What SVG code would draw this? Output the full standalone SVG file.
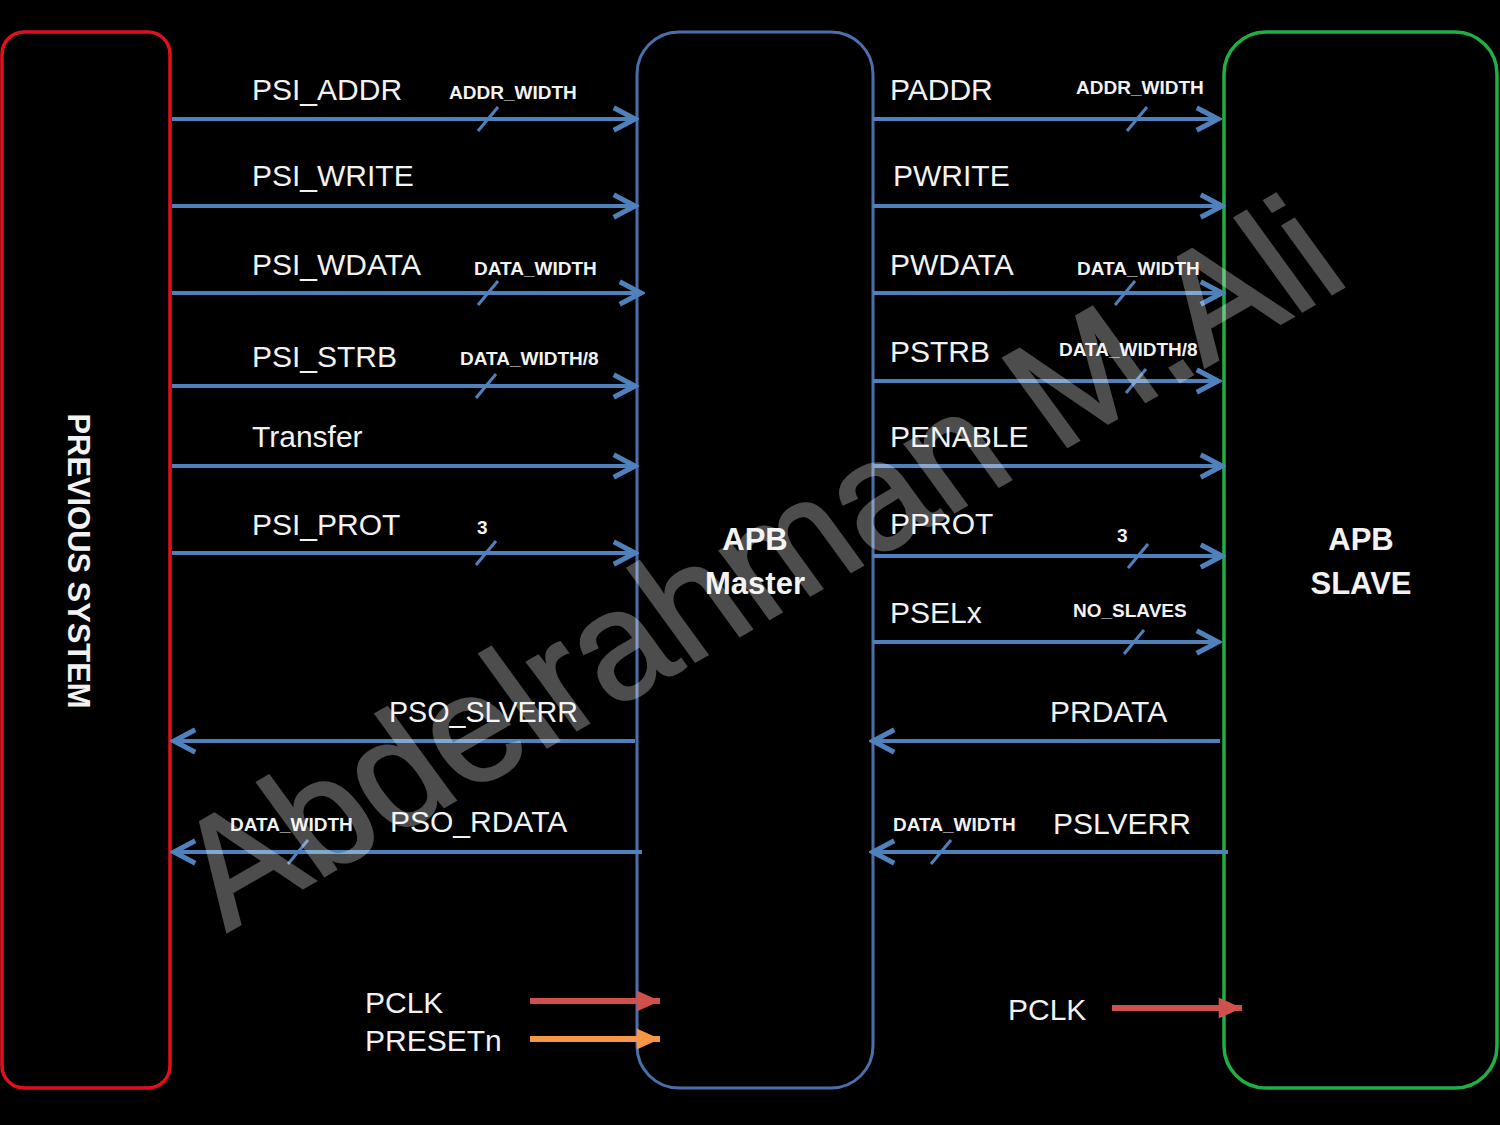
<svg xmlns="http://www.w3.org/2000/svg" width="1500" height="1125" viewBox="0 0 1500 1125">
<defs>
<marker id="ah" markerUnits="userSpaceOnUse" markerWidth="30" markerHeight="30" viewBox="0 0 24 24" refX="21" refY="12" orient="auto">
<path d="M4,3 L21,12 L4,21" fill="none" stroke="#4f81bd" stroke-width="4" stroke-linejoin="miter"/>
</marker>
<marker id="ahr" markerUnits="userSpaceOnUse" markerWidth="28" markerHeight="28" viewBox="0 0 24 24" refX="22" refY="12" orient="auto">
<path d="M2,3 L22,12 L2,21 Z" fill="#d0504d"/>
</marker>
<marker id="aho" markerUnits="userSpaceOnUse" markerWidth="28" markerHeight="28" viewBox="0 0 24 24" refX="22" refY="12" orient="auto">
<path d="M2,3 L22,12 L2,21 Z" fill="#f79646"/>
</marker>
</defs>
<style>
.lbl{font-family:"Liberation Sans",Arial,sans-serif;font-size:30px;fill:#f2f2f2}
.sm{font-family:"Liberation Sans",Arial,sans-serif;font-size:19px;font-weight:bold;fill:#f2f2f2}
.big{font-family:"Liberation Sans",Arial,sans-serif;font-size:31px;font-weight:bold;fill:#f2f2f2}
.bus{stroke:#4f81bd;stroke-width:4;fill:none;marker-end:url(#ah)}
.tick{stroke:#4f81bd;stroke-width:3}
</style>
<rect x="0" y="0" width="1500" height="1125" fill="#000"/>

<g id="previous-system">
<rect x="2" y="32" width="168" height="1056" rx="22" fill="none" stroke="#e2101c" stroke-width="3.5"/>
<text class="big" transform="translate(68,561) rotate(90)" text-anchor="middle" font-size="30" textLength="295" lengthAdjust="spacingAndGlyphs">PREVIOUS  SYSTEM</text>
</g>

<g id="apb-master">
<rect x="637" y="32" width="236" height="1056" rx="42" fill="none" stroke="#4a70ab" stroke-width="3"/>
<text class="big" x="755" y="550" text-anchor="middle">APB</text>
<text class="big" x="755" y="594" text-anchor="middle">Master</text>
</g>

<g id="apb-slave">
<rect x="1224" y="32" width="273" height="1056" rx="42" fill="none" stroke="#1fb044" stroke-width="3.5"/>
<text class="big" x="1361" y="550" text-anchor="middle">APB</text>
<text class="big" x="1361" y="594" text-anchor="middle">SLAVE</text>
</g>

<g id="connectors">
<line class="bus" x1="172" y1="119" x2="635" y2="119"/>
<line class="bus" x1="172" y1="206" x2="635" y2="206"/>
<line class="bus" x1="172" y1="293" x2="641" y2="293"/>
<line class="bus" x1="172" y1="386" x2="635" y2="386"/>
<line class="bus" x1="172" y1="466" x2="635" y2="466"/>
<line class="bus" x1="172" y1="553" x2="635" y2="553"/>
<line class="bus" x1="635" y1="741" x2="174" y2="741"/>
<line class="bus" x1="642" y1="852" x2="174" y2="852"/>

<line class="bus" x1="873" y1="119" x2="1218" y2="119"/>
<line class="bus" x1="873" y1="206" x2="1222" y2="206"/>
<line class="bus" x1="873" y1="293" x2="1222" y2="293"/>
<line class="bus" x1="873" y1="381" x2="1218" y2="381"/>
<line class="bus" x1="873" y1="466" x2="1222" y2="466"/>
<line class="bus" x1="873" y1="556" x2="1222" y2="556"/>
<line class="bus" x1="873" y1="642" x2="1218" y2="642"/>
<line class="bus" x1="1220" y1="741" x2="873" y2="741"/>
<line class="bus" x1="1228" y1="852" x2="873" y2="852"/>

<line class="tick" x1="478" y1="131" x2="498" y2="107"/>
<line class="tick" x1="478" y1="305" x2="498" y2="281"/>
<line class="tick" x1="476" y1="398" x2="496" y2="374"/>
<line class="tick" x1="476" y1="565" x2="496" y2="541"/>
<line class="tick" x1="288" y1="864" x2="308" y2="840"/>
<line class="tick" x1="1127" y1="131" x2="1147" y2="107"/>
<line class="tick" x1="1115" y1="305" x2="1135" y2="281"/>
<line class="tick" x1="1126" y1="393" x2="1146" y2="369"/>
<line class="tick" x1="1128" y1="568" x2="1148" y2="544"/>
<line class="tick" x1="1124" y1="654" x2="1144" y2="630"/>
<line class="tick" x1="931" y1="864" x2="951" y2="840"/>

<line x1="530" y1="1001" x2="660" y2="1001" stroke="#d0504d" stroke-width="6" marker-end="url(#ahr)"/>
<line x1="530" y1="1039" x2="660" y2="1039" stroke="#f79646" stroke-width="6" marker-end="url(#aho)"/>
<line x1="1112" y1="1008" x2="1242" y2="1008" stroke="#d0504d" stroke-width="6" marker-end="url(#ahr)"/>
</g>

<g id="labels">
<text class="lbl" x="252" y="100">PSI_ADDR</text>
<text class="sm" x="449" y="99">ADDR_WIDTH</text>
<text class="lbl" x="252" y="186">PSI_WRITE</text>
<text class="lbl" x="252" y="275">PSI_WDATA</text>
<text class="sm" x="474" y="275">DATA_WIDTH</text>
<text class="lbl" x="252" y="367">PSI_STRB</text>
<text class="sm" x="460" y="365">DATA_WIDTH/8</text>
<text class="lbl" x="252" y="447">Transfer</text>
<text class="lbl" x="252" y="535">PSI_PROT</text>
<text class="sm" x="477" y="534">3</text>
<text class="lbl" x="389" y="722" textLength="189" lengthAdjust="spacingAndGlyphs">PSO_SLVERR</text>
<text class="sm" x="230" y="831">DATA_WIDTH</text>
<text class="lbl" x="390" y="832">PSO_RDATA</text>
<text class="lbl" x="365" y="1013">PCLK</text>
<text class="lbl" x="365" y="1051">PRESETn</text>

<text class="lbl" x="890" y="100">PADDR</text>
<text class="sm" x="1076" y="94">ADDR_WIDTH</text>
<text class="lbl" x="893" y="186">PWRITE</text>
<text class="lbl" x="890" y="275">PWDATA</text>
<text class="sm" x="1077" y="275">DATA_WIDTH</text>
<text class="lbl" x="890" y="362">PSTRB</text>
<text class="sm" x="1059" y="356">DATA_WIDTH/8</text>
<text class="lbl" x="890" y="447">PENABLE</text>
<text class="lbl" x="890" y="534">PPROT</text>
<text class="sm" x="1117" y="542">3</text>
<text class="lbl" x="890" y="623">PSELx</text>
<text class="sm" x="1073" y="617">NO_SLAVES</text>
<text class="lbl" x="1050" y="722">PRDATA</text>
<text class="sm" x="893" y="831">DATA_WIDTH</text>
<text class="lbl" x="1053" y="834">PSLVERR</text>
<text class="lbl" x="1008" y="1020">PCLK</text>
</g>

<g id="watermark" opacity="0.3">
<text transform="translate(227,932) rotate(-30) skewX(6)" font-family="'Liberation Sans',Arial,sans-serif" font-size="158" fill="#ffffff" stroke="#ffffff" stroke-width="2.5" textLength="1300" lengthAdjust="spacingAndGlyphs">Abdelrahman M.Ali</text>
</g>
</svg>
